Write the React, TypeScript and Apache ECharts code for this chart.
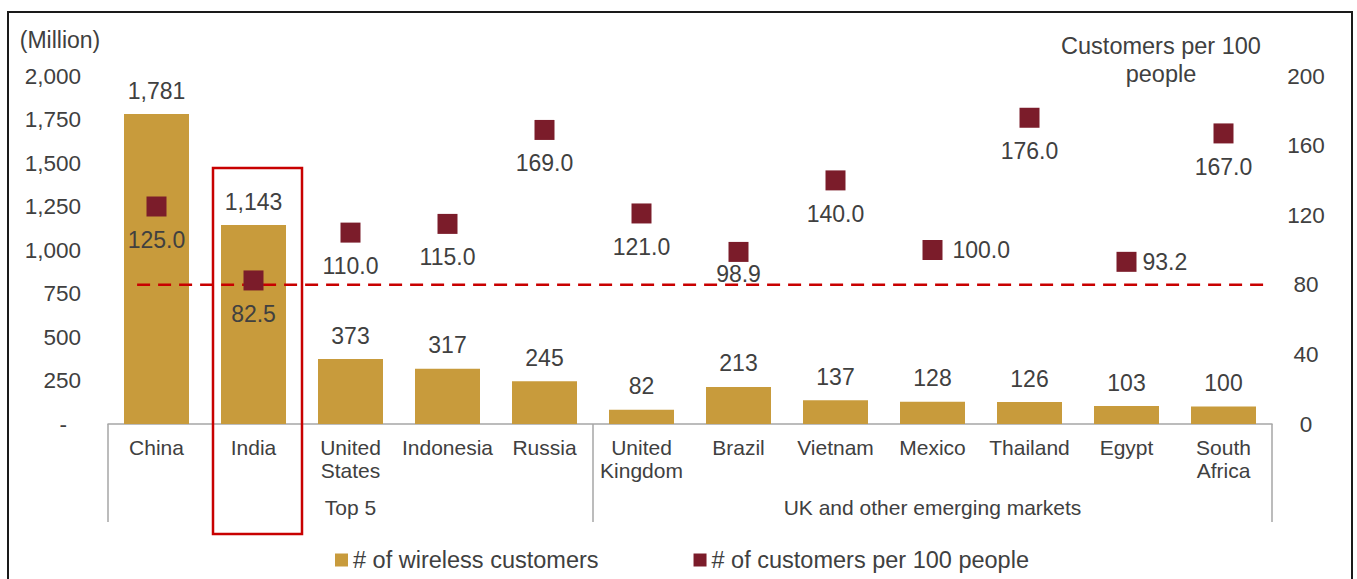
import React, { useEffect, useRef } from "react";
import * as echarts from "echarts";

const categories = [
  "China", "India", "United\nStates", "Indonesia", "Russia",
  "United\nKingdom", "Brazil", "Vietnam", "Mexico", "Thailand", "Egypt", "South\nAfrica",
];
const wirelessCustomers = [1781, 1143, 373, 317, 245, 82, 213, 137, 128, 126, 103, 100];
const customersPer100 = [125.0, 82.5, 110.0, 115.0, 169.0, 121.0, 98.9, 140.0, 100.0, 176.0, 93.2, 167.0];
const groupNames = ["Top 5", "UK and other emerging markets"];
const groupBounds = [0, 5, 12];
const referenceLevel = 80;
const referenceSpan = [0.3, 11.95];
const seriesNames = ["# of wireless customers", "# of customers per 100 people"];

const FONT = '"Liberation Sans", Arial, sans-serif';
const TEXT = "#404040";
const GOLD = "#C89B3C";
const MAROON = "#7B1C2A";
const RED = "#C80000";
const AXIS = "#A6A6A6";

const fmtThousands = (v: number) => Math.round(v).toLocaleString("en-US");

export default function App() {
  const ref = useRef<HTMLDivElement>(null);
  useEffect(() => {
    document.body.style.margin = "0";
    if (!ref.current) return;
    const chart = echarts.init(ref.current, null, { renderer: "svg" });

    const groupMids = groupBounds.slice(0, -1).map((b, i) => (b + groupBounds[i + 1]) / 2);

    const labelOverrides: Record<number, any> = {
      6: { position: "bottom", distance: 1 },
      8: { position: "right", distance: 10 },
      10: { position: "right", distance: 6 },
    };
    const scatterData = customersPer100.map((v, i) =>
      labelOverrides[i] ? { value: v, label: labelOverrides[i] } : v
    );

    chart.setOption({
      animation: false,
      textStyle: { fontFamily: FONT },
      grid: { left: 108, right: 85, top: 76, bottom: 155, containLabel: false },
      legend: {
        left: 330,
        top: 543,
        itemWidth: 13,
        itemHeight: 13,
        itemGap: 95,
        icon: "rect",
        textStyle: { color: TEXT, fontSize: 23.5, fontFamily: FONT },
        data: seriesNames,
      },
      xAxis: [
        {
          type: "category",
          data: categories,
          axisLine: { lineStyle: { color: AXIS, width: 1.5 } },
          axisTick: { show: false },
          axisLabel: { color: TEXT, fontSize: 21, lineHeight: 23, margin: 12, interval: 0, fontFamily: FONT },
        },
        {
          type: "value",
          position: "bottom",
          min: 0,
          max: categories.length,
          axisLine: { show: false },
          splitLine: { show: false },
          axisTick: {
            show: true,
            customValues: groupBounds,
            length: 98,
            lineStyle: { color: AXIS, width: 1.5 },
          },
          axisLabel: {
            customValues: groupMids,
            formatter: (v: number) => {
              const idx = groupMids.findIndex((m) => Math.abs(m - v) < 1e-6);
              return idx >= 0 ? groupNames[idx] : "";
            },
            margin: 73,
            color: TEXT,
            fontSize: 21,
            fontFamily: FONT,
          },
        },
      ],
      yAxis: [
        {
          type: "value",
          min: 0,
          max: 2000,
          interval: 250,
          splitLine: { show: false },
          axisLine: { show: false },
          axisTick: { show: false },
          axisLabel: {
            margin: 27,
            color: TEXT,
            fontSize: 22.5,
            fontFamily: FONT,
            formatter: (v: number) => (v === 0 ? "{d|-}" : fmtThousands(v)),
            rich: { d: { padding: [0, 14, 0, 0], fontSize: 22.5, color: TEXT, fontFamily: FONT } },
          },
        },
        {
          type: "value",
          position: "right",
          min: 0,
          max: 200,
          interval: 40,
          splitLine: { show: false },
          axisLine: { show: false },
          axisTick: { show: false },
          axisLabel: { margin: 34, align: "center", color: TEXT, fontSize: 22.5, fontFamily: FONT },
        },
      ],
      series: [
        {
          name: seriesNames[0],
          type: "bar",
          data: wirelessCustomers,
          barWidth: 65,
          itemStyle: { color: GOLD },
          label: {
            show: true,
            position: "top",
            distance: 12,
            color: TEXT,
            fontSize: 23,
            fontFamily: FONT,
            formatter: (p: any) => fmtThousands(p.value),
          },
          z: 2,
        },
        {
          name: "reference",
          type: "line",
          xAxisIndex: 1,
          yAxisIndex: 1,
          data: [
            [referenceSpan[0], referenceLevel],
            [referenceSpan[1], referenceLevel],
          ],
          symbol: "none",
          lineStyle: { color: RED, width: 2.5, type: [13, 8], opacity: 1 },
          silent: true,
          z: 3,
        },
        {
          name: seriesNames[1],
          type: "scatter",
          yAxisIndex: 1,
          data: scatterData,
          symbol: "rect",
          symbolSize: 20,
          itemStyle: { color: MAROON, opacity: 1 },
          label: {
            show: true,
            position: "bottom",
            distance: 12,
            color: TEXT,
            fontSize: 23,
            fontFamily: FONT,
            formatter: (p: any) => Number(p.value).toFixed(1),
          },
          z: 4,
        },
      ],
      graphic: [
        {
          type: "rect",
          z: -10,
          shape: { x: 8, y: 12, width: 1344, height: 640 },
          style: { fill: "none", stroke: "#1a1a1a", lineWidth: 2 },
          silent: true,
        },
        {
          type: "rect",
          z: 10,
          shape: { x: 213, y: 168, width: 89, height: 366 },
          style: { fill: "none", stroke: RED, lineWidth: 2.5 },
          silent: true,
        },
        {
          type: "text",
          x: 60,
          y: 40,
          style: { text: "(Million)", fill: TEXT, font: `23px ${FONT}`, align: "center", verticalAlign: "middle" },
        },
        {
          type: "text",
          x: 1161,
          y: 60,
          style: {
            text: "Customers per 100\npeople",
            fill: TEXT,
            font: `23.5px ${FONT}`,
            lineHeight: 28,
            align: "center",
            verticalAlign: "middle",
          },
        },
      ],
    });
    return () => chart.dispose();
  }, []);
  return <div ref={ref} style={{ width: 1357, height: 579 }} />;
}
